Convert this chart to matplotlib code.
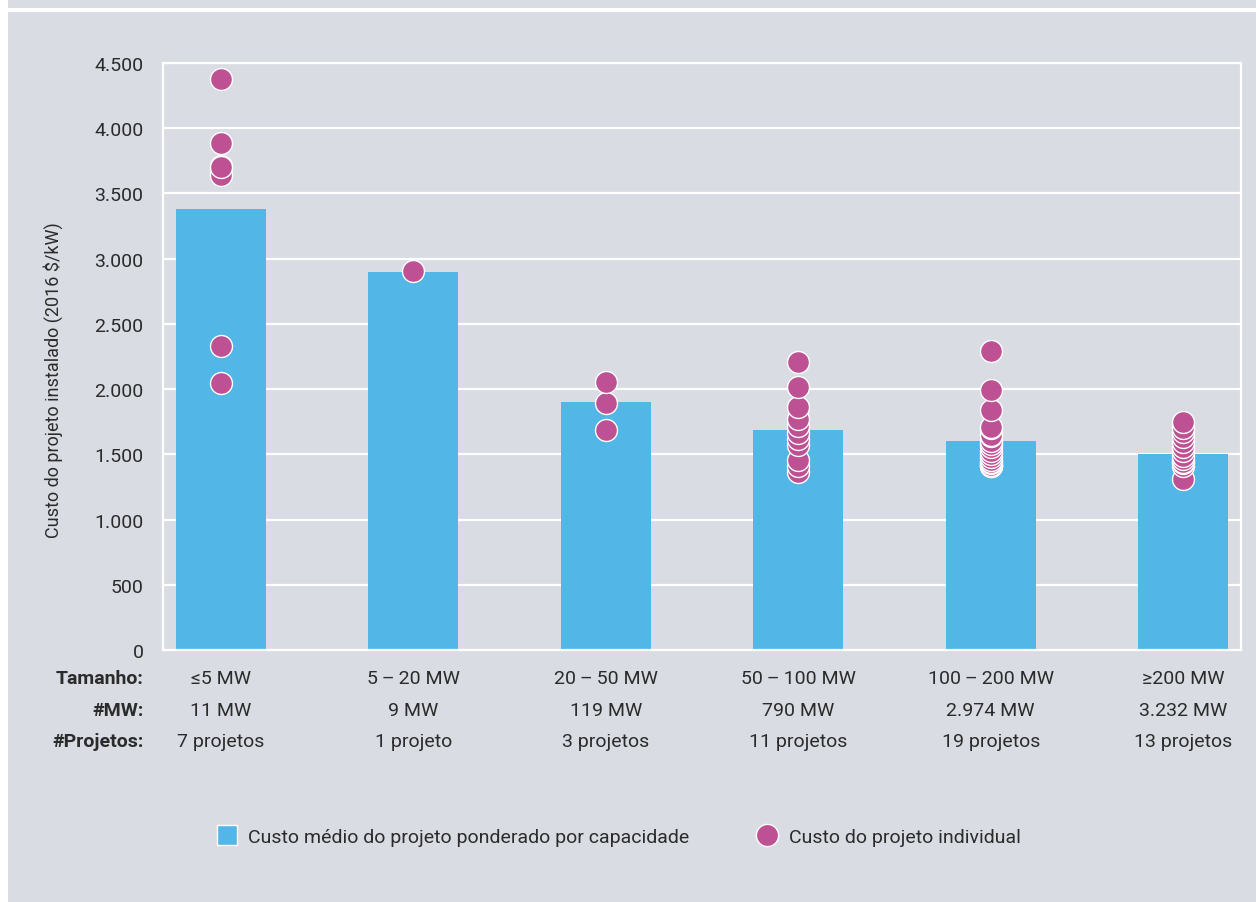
import numpy as np
import matplotlib.pyplot as plt
from matplotlib.lines import Line2D
from matplotlib.patches import Rectangle

plt.rcParams['font.family'] = ['Roboto', 'DejaVu Sans']

# dados
tamanho = ['≤5 MW', '5\u2009–\u200920 MW', '20\u2009–\u200950 MW', '50\u2009–\u2009100 MW',
           '100\u2009–\u2009200 MW', '≥200 MW']
total_mw = ['11 MW', '9 MW', '119 MW', '790 MW', '2.974 MW', '3.232 MW']
n_projetos = ['7 projetos', '1 projeto', '3 projetos', '11 projetos', '19 projetos', '13 projetos']
custo_medio = [3380, 2900, 1905, 1690, 1605, 1505]

custo_1 = [2045, 2330, 3640, 3710, 3700, 3890, 4380]
custo_2 = [2905]
custo_3 = [1687, 1892, 2057]
custo_4 = [1362, 1410, 1459, 1572, 1620, 1664, 1720, 1771, 1861, 2019, 2206]
custo_5 = [1410, 1413, 1420, 1430, 1439, 1460, 1477, 1500, 1528, 1560, 1579, 1600,
           1643, 1650, 1700, 1707, 1840, 1993, 2295]
custo_6 = [1311, 1413, 1430, 1440, 1464, 1490, 1528, 1560, 1597, 1630, 1669, 1700, 1746]
custo_individual = [custo_1, custo_2, custo_3, custo_4, custo_5, custo_6]

yticks = np.arange(0, 4501, 500)

bg = '#d9dce3'
azul = '#52b6e7'
rosa = '#bd5193'
txt = '#2b2b2b'

fig = plt.figure(figsize=(12.56, 9.03), dpi=100, facecolor='white')
# painel cinza com a linha branca em cima
fig.patches.append(Rectangle((8 / 1256, 0), 1, 1, transform=fig.transFigure,
                             facecolor=bg, edgecolor='none', zorder=-10))
fig.lines.append(Line2D([8 / 1256, 1], [1 - 10.5 / 903] * 2, transform=fig.transFigure,
                        color='white', lw=3, zorder=-5))

ax = fig.add_axes([163 / 1256, 1 - 651 / 903, (1241 - 163) / 1256, (651 - 64) / 903])
ax.set_facecolor(bg)
x = np.arange(len(tamanho))

ax.bar(x, custo_medio, width=0.47, color=azul, zorder=2)
for i, vals in enumerate(custo_individual):
    ax.scatter(np.full(len(vals), x[i]), vals, s=250, color=rosa,
               edgecolors='white', linewidths=1, zorder=3)

ax.set_xlim(-0.3, 5.3)
ax.set_ylim(0, 4500)
ax.set_yticks(yticks)
ax.set_yticklabels([f'{v:,}'.replace(',', '.') for v in yticks], fontsize=14, color=txt)
ax.tick_params(axis='y', length=0, pad=14)
ax.set_xticks([])
ax.grid(axis='y', color='white', lw=1.6, zorder=1)
ax.set_axisbelow(True)
for s in ax.spines.values():
    s.set_color('white')
    s.set_linewidth(1.6)

# tabela de rótulos por baixo das barras
linhas = [('Tamanho:', tamanho, -28), ('#MW:', total_mw, -60), ('#Projetos:', n_projetos, -91)]
for rotulo, valores, dy in linhas:
    yf = dy / 587
    ax.text(-19 / 1078, yf, rotulo, transform=ax.transAxes, ha='right', va='center',
            fontsize=14, fontweight='bold', color=txt)
    for i, v in enumerate(valores):
        ax.text(x[i], yf, v, transform=ax.get_xaxis_transform(), ha='center', va='center',
                fontsize=14, color=txt)

fig.text(53 / 1256, 1 - 380 / 903, 'Custo do projeto instalado (2016 $/kW)', rotation=90,
         ha='center', va='center', fontsize=13, color=txt)

handles = [Line2D([], [], marker='s', ls='none', markersize=15, markerfacecolor=azul,
                  markeredgecolor='white', markeredgewidth=1),
           Line2D([], [], marker='o', ls='none', markersize=16, markerfacecolor=rosa,
                  markeredgecolor='white', markeredgewidth=1)]
fig.legend(handles, ['Custo médio do projeto ponderado por capacidade', 'Custo do projeto individual'],
           loc='center', bbox_to_anchor=(0.492, 1 - 838 / 903), ncol=2, frameon=False,
           fontsize=14, labelcolor=txt, handletextpad=0.5, columnspacing=3.4, handlelength=1.2)

fig.savefig('out.png', dpi=100, facecolor=fig.get_facecolor())
